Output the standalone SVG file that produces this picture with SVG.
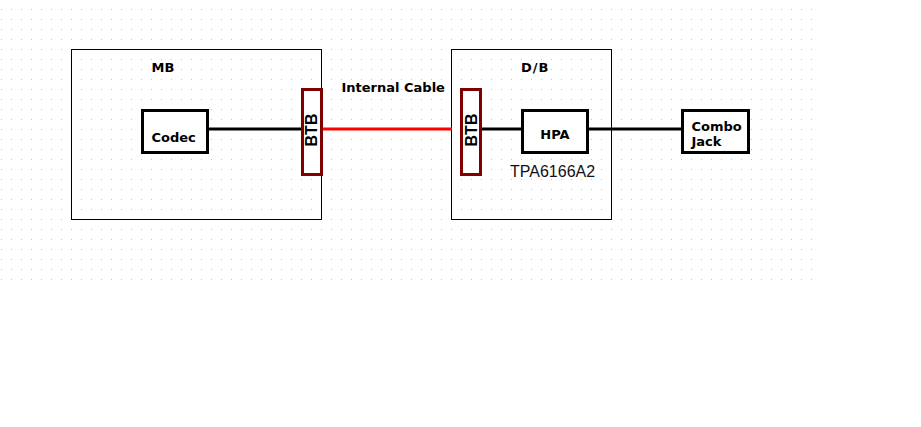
<svg xmlns="http://www.w3.org/2000/svg" width="921" height="427" viewBox="0 0 921 427">
  <defs>
    <pattern id="dots" x="0" y="0" width="10" height="10" patternUnits="userSpaceOnUse">
      <rect x="1" y="9" width="1" height="1" fill="#c4c4c4"/>
    </pattern>
    <style>
      .board { fill: none; stroke: #000; stroke-width: 1; }
      .blk { fill: #fff; stroke: #000; stroke-width: 3; }
      .btb { fill: #fff; stroke: #800000; stroke-width: 3; }
      .lbl { font-family: "DejaVu Sans", Verdana, sans-serif; font-weight: bold; font-size: 13px; fill: #000; }
      .btbt { font-family: "Liberation Sans", Arial, sans-serif; font-weight: bold; font-size: 16px; fill: #000; text-anchor: middle; dominant-baseline: central; }
      .wire { stroke: #000; stroke-width: 3; fill: none; }
      .cable { stroke: #ff0000; stroke-width: 3; fill: none; }
    </style>
  </defs>
  <rect x="0" y="0" width="921" height="427" fill="#fff"/>
  <rect x="0" y="0" width="815" height="283" fill="url(#dots)"/>

  <g id="MB">
    <rect class="board" x="71.5" y="49.5" width="250" height="170"/>
    <text class="lbl" x="151.5" y="72" font-size="12">MB</text>
  </g>
  <g id="DB">
    <rect class="board" x="451.5" y="49.5" width="160" height="170"/>
    <text class="lbl" x="521" y="72" letter-spacing="1">D/B</text>
  </g>

  <g id="connectors">
    <line class="wire" x1="209" y1="129" x2="302" y2="129"/>
    <line class="cable" x1="323" y1="129" x2="452" y2="129"/>
    <line class="wire" x1="482" y1="129" x2="521" y2="129"/>
    <line class="wire" x1="589" y1="129" x2="681" y2="129"/>
    <text class="lbl" x="341.5" y="91.5">Internal Cable</text>
  </g>

  <g id="Codec">
    <rect class="blk" x="142.5" y="110.5" width="65" height="42"/>
    <text class="lbl" x="151.5" y="142">Codec</text>
  </g>
  <g id="BTB_MB">
    <rect class="btb" x="302.5" y="89.5" width="19" height="85"/>
    <text class="btbt" transform="translate(311,130) rotate(-90)">BTB</text>
  </g>
  <g id="BTB_DB">
    <rect class="btb" x="461.5" y="89.5" width="19" height="85"/>
    <text class="btbt" transform="translate(471.5,130) rotate(-90)">BTB</text>
  </g>
  <g id="HPA">
    <rect class="blk" x="522.5" y="110.5" width="65" height="42"/>
    <text class="lbl" x="555" y="139" text-anchor="middle" font-size="12.5">HPA</text>
    <text x="510" y="177" font-family="'Liberation Sans', Arial, sans-serif" font-size="16" fill="#111">TPA6166A2</text>
  </g>
  <g id="ComboJack">
    <rect class="blk" x="682.5" y="110.5" width="66" height="42"/>
    <text class="lbl"><tspan x="691.5" y="130.5">Combo</tspan><tspan x="691.5" y="145.5">Jack</tspan></text>
  </g>
</svg>
